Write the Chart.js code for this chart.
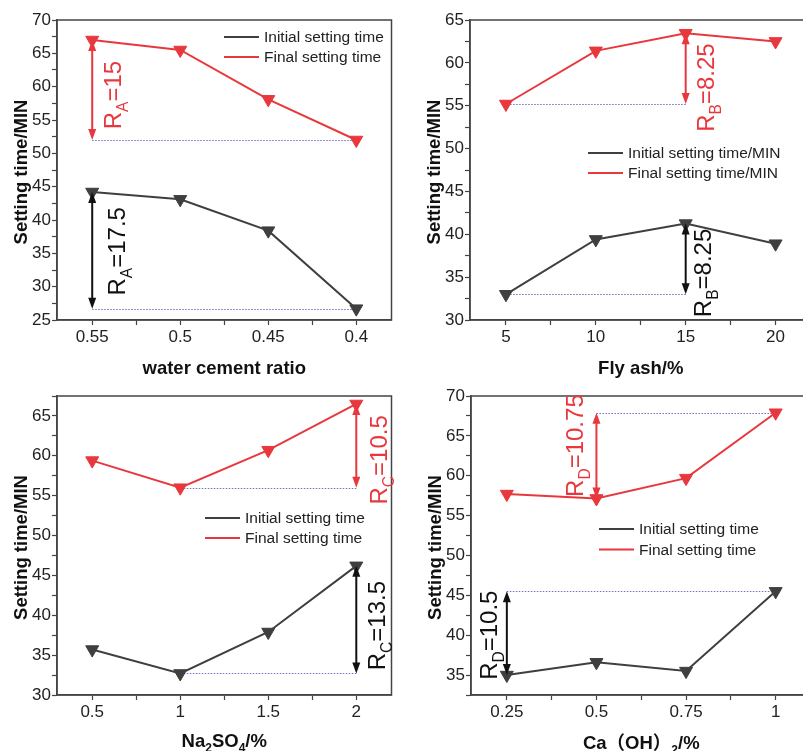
<!DOCTYPE html>
<html><head><meta charset="utf-8">
<script src="https://cdn.jsdelivr.net/npm/chart.js@4"></script>
<style>
html,body{margin:0;padding:0;background:#fff;overflow:hidden;width:803px;height:751px;position:relative;}
canvas{position:absolute;}
</style></head><body>
<canvas id="c1" width="400" height="380" style="left:0;top:0"></canvas>
<canvas id="c2" width="420" height="380" style="left:400px;top:0"></canvas>
<canvas id="c3" width="400" height="371" style="left:0;top:380px"></canvas>
<canvas id="c4" width="420" height="371" style="left:400px;top:380px"></canvas>
<script>
// ---- data ----
const wcrLabels = ['0.55', '0.5', '0.45', '0.4'];
const wcrInitial = [44.2, 43.1, 38.4, 26.7];
const wcrFinal = [67.0, 65.5, 58.1, 52.0];

const flyLabels = ['5', '10', '15', '20'];
const flyInitial = [33.0, 39.4, 41.25, 38.9];
const flyFinal = [55.2, 61.4, 63.45, 62.5];

const naLabels = ['0.5', '1', '1.5', '2'];
const naInitial = [35.7, 32.7, 37.9, 46.2];
const naFinal = [59.4, 56.0, 60.7, 66.5];

const caLabels = ['0.25', '0.5', '0.75', '1'];
const caInitial = [35.0, 36.6, 35.5, 45.5];
const caFinal = [57.7, 57.15, 59.7, 67.9];

// range annotations: series (0 initial, 1 final), index where arrow sits, index of other end
const wcrRanges = [{series: 0, at: 0, other: 3, sub: 'A', text: '=17.5'}, {series: 1, at: 0, other: 3, sub: 'A', text: '=15'}];
const flyRanges = [{series: 0, at: 2, other: 0, sub: 'B', text: '=8.25'}, {series: 1, at: 2, other: 0, sub: 'B', text: '=8.25'}];
const naRanges = [{series: 0, at: 3, other: 1, sub: 'C', text: '=13.5'}, {series: 1, at: 3, other: 1, sub: 'C', text: '=10.5'}];
const caRanges = [{series: 0, at: 0, other: 3, sub: 'D', text: '=10.5'}, {series: 1, at: 1, other: 3, sub: 'D', text: '=10.75'}];

// ---- style ----
const GRAY = '#3f3f3f', RED = '#e8383d', DOT = '#6f6fc8', AX = '#444';
const FONT = '"Liberation Sans", Arial, "Noto Sans CJK SC", sans-serif';

function drawParts(ctx, parts, fs, bold) {
  const w = parts.map(([t, s]) => {
    ctx.font = `${bold ? 'bold ' : ''}${s ? fs * 0.65 : fs}px ${FONT}`;
    return ctx.measureText(t).width;
  });
  const total = w.reduce((a, b) => a + b, 0);
  let xs = -total / 2;
  const b = fs * 0.36;
  parts.forEach(([t, s], i) => {
    ctx.font = `${bold ? 'bold ' : ''}${s ? fs * 0.65 : fs}px ${FONT}`;
    ctx.fillText(t, xs, s ? b + fs * 0.28 : b);
    xs += w[i];
  });
}

const panelPlugin = {
  id: 'panel',
  beforeDatasetsDraw(chart, args, o) {
    const {ctx, chartArea: a, scales: {x, y}} = chart;
    ctx.save();
    ctx.strokeStyle = AX; ctx.lineWidth = 1.5;
    ctx.strokeRect(a.left, a.top, a.right - a.left, a.bottom - a.top);
    ctx.strokeStyle = DOT; ctx.lineWidth = 1; ctx.setLineDash([1.5, 1.5]);
    o.ranges.forEach(r => {
      const d = chart.data.datasets[r.series].data;
      const yv = Math.round(y.getPixelForValue(d[r.other].y)) + 0.5;
      ctx.beginPath();
      ctx.moveTo(x.getPixelForValue(r.at), yv);
      ctx.lineTo(x.getPixelForValue(r.other), yv);
      ctx.stroke();
    });
    ctx.restore();
  },
  afterDatasetsDraw(chart, args, o) {
    const {ctx, chartArea: a, scales: {x, y}} = chart;
    ctx.save();
    o.ranges.forEach((r, k) => {
      const d = chart.data.datasets[r.series].data;
      const color = r.series === 0 ? '#111' : RED;
      const xp = x.getPixelForValue(r.at);
      const y1 = y.getPixelForValue(d[r.at].y), y2 = y.getPixelForValue(d[r.other].y);
      const top = Math.min(y1, y2), bot = Math.max(y1, y2);
      ctx.strokeStyle = color; ctx.fillStyle = color; ctx.lineWidth = 2;
      ctx.beginPath(); ctx.moveTo(xp, top + 6); ctx.lineTo(xp, bot - 6); ctx.stroke();
      [[top, -1], [bot, 1]].forEach(([tip, dir]) => {
        ctx.beginPath();
        ctx.moveTo(xp, tip);
        ctx.lineTo(xp - 4, tip - dir * 11);
        ctx.lineTo(xp + 4, tip - dir * 11);
        ctx.closePath(); ctx.fill();
      });
      const p = o.labelPos[k];
      ctx.save();
      ctx.translate(xp + p[0], (top + bot) / 2 + p[1]);
      ctx.rotate(-Math.PI / 2);
      ctx.textBaseline = 'alphabetic'; ctx.textAlign = 'left';
      drawParts(ctx, [['R', false], [r.sub, true], [r.text, false]], 24, false);
      ctx.restore();
    });
    // legend
    ctx.textBaseline = 'middle'; ctx.textAlign = 'left';
    ctx.font = `15.5px ${FONT}`;
    chart.data.datasets.forEach((ds, i) => {
      const ly = o.legend[1] + i * o.legend[2];
      ctx.strokeStyle = ds.borderColor; ctx.lineWidth = 2;
      ctx.beginPath(); ctx.moveTo(o.legend[0], ly); ctx.lineTo(o.legend[0] + 35, ly); ctx.stroke();
      ctx.fillStyle = '#222';
      ctx.fillText(ds.label, o.legend[0] + 40, ly + 1);
    });
    // axis titles
    ctx.fillStyle = '#111';
    ctx.textAlign = 'left'; ctx.textBaseline = 'alphabetic';
    ctx.save();
    ctx.translate((a.left + a.right) / 2, a.bottom + o.xTitleOff);
    drawParts(ctx, o.xTitle, 18.5, true);
    ctx.restore();
    ctx.save();
    ctx.translate(a.left - 37, (a.top + a.bottom) / 2 + 2);
    ctx.rotate(-Math.PI / 2);
    drawParts(ctx, [['Setting time/MIN', false]], 18.5, true);
    ctx.restore();
    ctx.restore();
  }
};

function makeChart(id, labels, initial, final, names, yMin, yMax, cfg) {
  const ds = (label, vals, color) => ({
    label, data: vals.map((v, i) => ({x: i, y: v})),
    borderColor: color, backgroundColor: color, borderWidth: 2,
    pointStyle: 'triangle', pointRotation: 180, pointRadius: 7.5,
    pointBorderWidth: 1, pointBorderColor: color, clip: false, tension: 0
  });
  new Chart(document.getElementById(id), {
    type: 'line',
    data: {datasets: [ds(names[0], initial, GRAY), ds(names[1], final, RED)]},
    options: {
      responsive: false, animation: false, devicePixelRatio: 1,
      layout: {padding: {top: cfg.top, right: cfg.right, left: 0, bottom: 0}},
      plugins: {
        legend: {display: false}, tooltip: {enabled: false},
        panel: {ranges: cfg.ranges, labelPos: cfg.labelPos, legend: cfg.legend, xTitle: cfg.xTitle, xTitleOff: cfg.xTitleOff}
      },
      scales: {
        x: {
          type: 'linear', min: -0.4, max: labels.length - 0.6,
          afterBuildTicks: s => { s.ticks = []; for (let v = 0; v <= labels.length - 1; v += 0.5) s.ticks.push({value: v}); },
          afterFit: s => { s.height = cfg.xh; },
          ticks: {autoSkip: false, maxRotation: 0, padding: 2, color: '#222', font: {size: 17, family: FONT},
                  callback: v => Number.isInteger(v) ? labels[v] : ''},
          grid: {drawOnChartArea: false, tickLength: 5, color: AX, tickWidth: 1.2},
          border: {color: AX, width: 1.5}
        },
        y: {
          min: yMin, max: yMax,
          afterBuildTicks: s => { s.ticks = []; for (let v = Math.ceil(yMin / 2.5) * 2.5; v <= yMax + 1e-9; v += 2.5) s.ticks.push({value: v}); },
          afterFit: s => { s.width = cfg.yw; },
          ticks: {autoSkip: false, padding: 1, color: '#222', font: {size: 17, family: FONT},
                  callback: v => (Math.abs(v % 5) < 1e-9) ? String(v) : ''},
          grid: {drawOnChartArea: false, tickLength: 5, color: AX, tickWidth: 1.2},
          border: {color: AX, width: 1.5}
        }
      }
    },
    plugins: [panelPlugin]
  });
}

makeChart('c1', wcrLabels, wcrInitial, wcrFinal, ['Initial setting time', 'Final setting time'], 25, 70,
  {top: 20, right: 2, yw: 57, xh: 60, ranges: wcrRanges, labelPos: [[24, 1], [20, 5]],
   legend: [224, 37, 20], xTitle: [['water cement ratio', false]], xTitleOff: 47});
makeChart('c2', flyLabels, flyInitial, flyFinal, ['Initial setting time/MIN', 'Final setting time/MIN'], 30, 65,
  {top: 20, right: 7, yw: 70, xh: 60, ranges: flyRanges, labelPos: [[17, 14], [20, 19]],
   legend: [188, 153, 20], xTitle: [['Fly ash/%', false]], xTitleOff: 47});
makeChart('c3', naLabels, naInitial, naFinal, ['Initial setting time', 'Final setting time'], 30, 67.5,
  {top: 16, right: 2, yw: 57, xh: 56, ranges: naRanges, labelPos: [[20, 6], [22, 14]],
   legend: [205, 138, 20], xTitle: [['Na', false], ['2', true], ['SO', false], ['4', true], ['/%', false]], xTitleOff: 45});
makeChart('c4', caLabels, caInitial, caFinal, ['Initial setting time', 'Final setting time'], 32.5, 70,
  {top: 16, right: 7, yw: 71, xh: 56, ranges: caRanges, labelPos: [[-18, 2], [-22, -10]],
   legend: [199, 149, 20.5], xTitle: [['Ca（OH）', false], ['2', true], ['/%', false]], xTitleOff: 47});
</script>
</body></html>
